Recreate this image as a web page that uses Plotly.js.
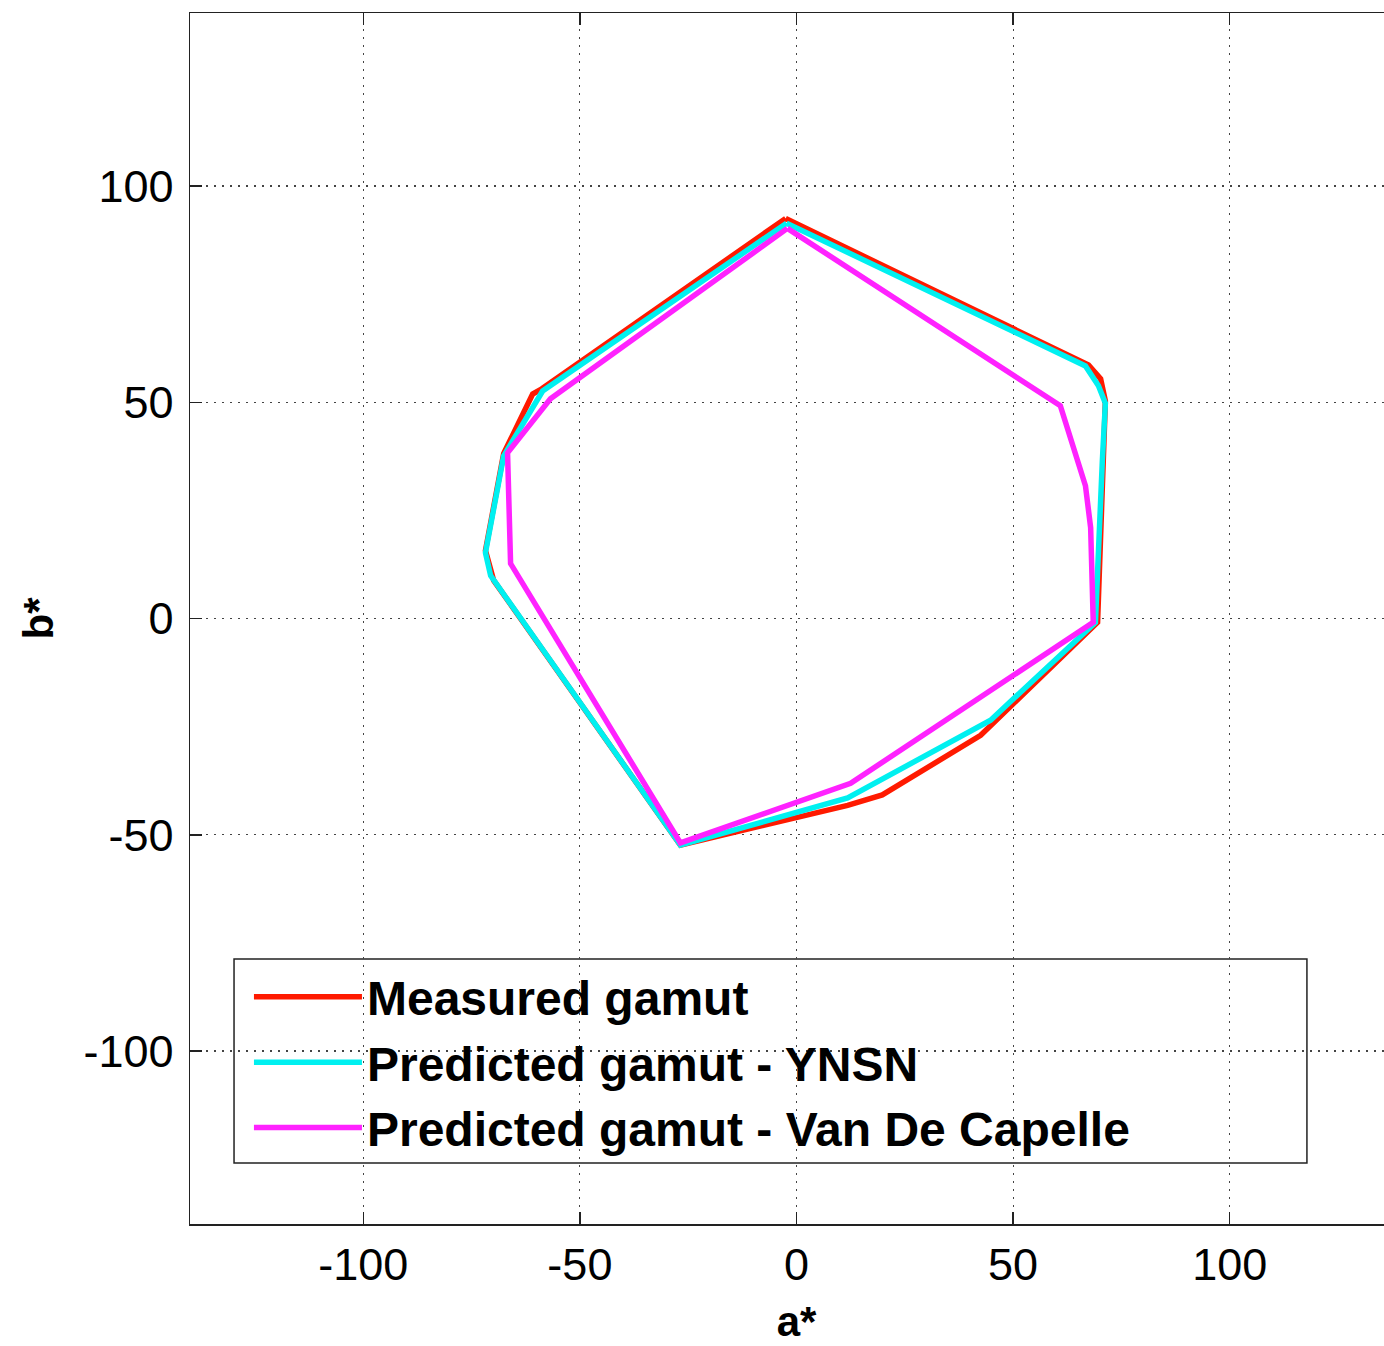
<!DOCTYPE html>
<html>
<head>
<meta charset="utf-8">
<script src="https://cdn.plot.ly/plotly-3.0.1.min.js"></script>
<style>
html,body{margin:0;padding:0;overflow:hidden;background:#fff;}
#chart{width:1410px;height:1346px;}
</style>
</head>
<body>
<div id="chart"></div>
<script>
// Measured gamut (a*, b*)
const measuredA = [-2.5, 67.4, 70.2, 71.3, 69.5, 42.5, 19.8, 11.8, -26.8, -69.9, -71.8, -67.6, -60.9, -58.8, -2.5];
const measuredB = [92.5, 58.6, 55.4, 50.3, -0.9, -27.0, -40.8, -43.2, -52.4, 8.8, 15.7, 38.1, 51.9, 53.1, 92.5];
// Predicted gamut - YNSN
const ynsnA = [-2.3, 66.7, 69.7, 71.3, 70.6, 69.0, 44.8, 11.8, -26.8, -70.6, -71.8, -67.6, -58.6, -2.3];
const ynsnB = [91.4, 58.4, 53.8, 49.8, 36.5, -0.9, -23.5, -41.5, -52.4, 9.9, 15.2, 37.6, 52.6, 91.4];
// Predicted gamut - Van De Capelle
const vdcA = [-2.1, 60.9, 66.7, 67.9, 68.5, 12.5, -26.8, -66.0, -66.7, -56.8, -2.1];
const vdcB = [90.2, 49.2, 30.7, 21.0, -0.9, -38.1, -51.9, 12.7, 38.3, 50.8, 90.2];

const seriesNames = ["Measured gamut", "Predicted gamut - YNSN", "Predicted gamut - Van De Capelle"];
const tickVals = [-100, -50, 0, 50, 100];
const tickText = ["-100", "-50", "0", "50", "100"];

const font = "Liberation Sans, Arial, Helvetica, sans-serif";
const traces = [
  {x: measuredA, y: measuredB, name: seriesNames[0], mode: "lines", line: {color: "#ff1a00", width: 5.5}},
  {x: ynsnA, y: ynsnB, name: seriesNames[1], mode: "lines", line: {color: "#00f0f0", width: 5.5}},
  {x: vdcA, y: vdcB, name: seriesNames[2], mode: "lines", line: {color: "#ff22ff", width: 5.5}}
];

const axisCommon = {
  range: [-140, 140],
  tickvals: tickVals,
  ticktext: tickText,
  ticks: "inside",
  ticklen: 12,
  tickwidth: 1.5,
  tickcolor: "#222",
  showline: true,
  linecolor: "#222",
  linewidth: 1.5,
  mirror: "ticks",
  showgrid: true,
  gridcolor: "#444",
  gridwidth: 1.2,
  griddash: "2px,6px",
  zeroline: false,
  tickfont: {family: font, size: 45, color: "#000"}
};

const layout = {
  width: 1410,
  height: 1346,
  margin: {l: 190, r: 7, t: 13, b: 122},
  paper_bgcolor: "#fff",
  plot_bgcolor: "#fff",
  showlegend: true,
  xaxis: Object.assign({}, axisCommon, {
    title: {text: "a*", font: {family: font, size: 42, color: "#000", weight: "bold"}, standoff: 18},
    ticklabelstandoff: 0
  }),
  yaxis: Object.assign({}, axisCommon, {
    title: {text: "b*", font: {family: font, size: 42, color: "#000", weight: "bold"}, standoff: 16},
    ticklabelstandoff: 6
  }),
  legend: {
    x: 0.0486, y: 0.2188, xanchor: "left", yanchor: "top",
    bgcolor: "rgba(0,0,0,0)", borderwidth: 0,
    font: {family: font, size: 48, color: "#000", weight: "bold"},
    itemwidth: 108,
    tracegroupgap: 0
  },
  shapes: [{
    type: "rect", xref: "paper", yref: "paper",
    x0: 0.0363, x1: 0.9208, y0: 0.0504, y1: 0.2188,
    line: {color: "#222", width: 1.5}, fillcolor: "#fff", layer: "below"
  }]
};

Plotly.newPlot("chart", traces, layout, {displayModeBar: false, staticPlot: true});
</script>
</body>
</html>
